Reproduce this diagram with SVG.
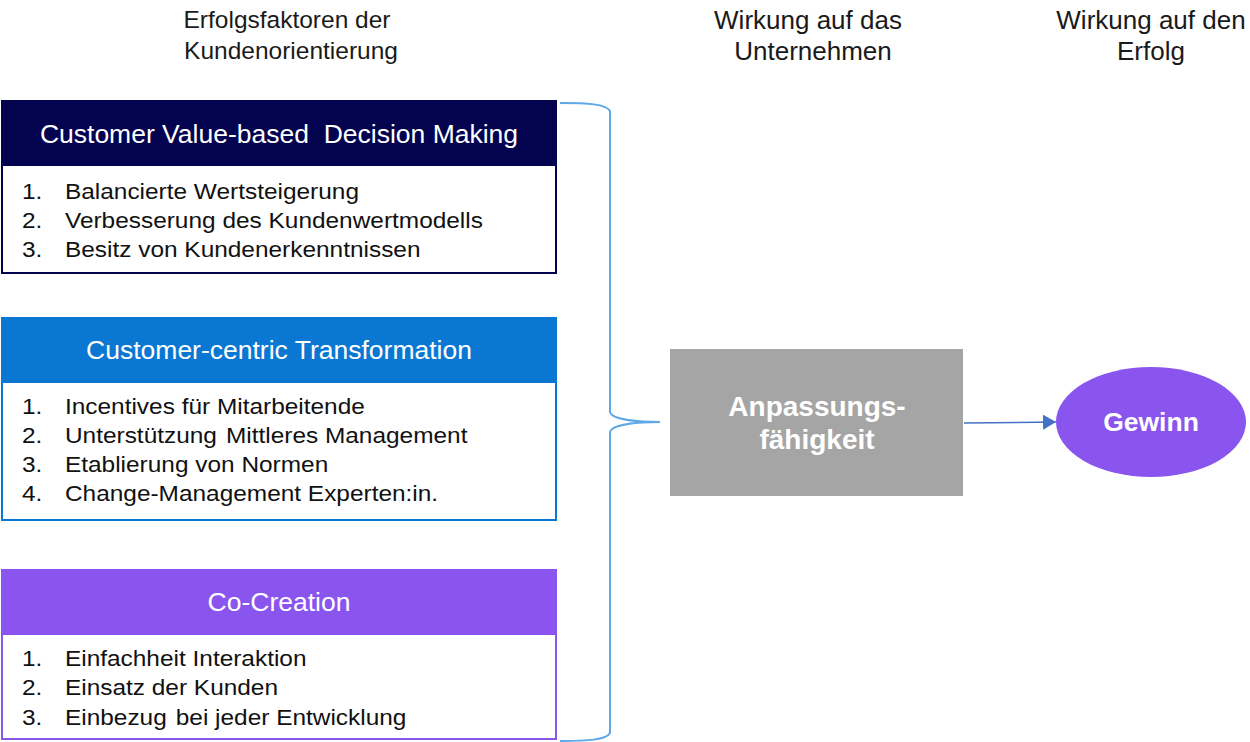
<svg xmlns="http://www.w3.org/2000/svg" width="1250" height="742" viewBox="0 0 1250 742">
  <defs>
    <style>
      text { white-space: pre; }
      .col { font-family: "Liberation Sans", Arial, sans-serif; font-size: 24.5px; fill: #1a1a1a; text-anchor: middle; }
      .col-r { font-family: "Liberation Sans", Arial, sans-serif; font-size: 26px; fill: #1a1a1a; text-anchor: middle; }
      .head { font-family: "Liberation Sans", Arial, sans-serif; font-size: 26.5px; fill: #ffffff; text-anchor: middle; }
      .item { font-family: "Liberation Sans", Arial, sans-serif; font-size: 22px; fill: #111111; }
      .bold { font-family: "Liberation Sans", Arial, sans-serif; font-weight: bold; fill: #ffffff; text-anchor: middle; }
      .brace { fill: none; stroke: #5fa8e8; stroke-width: 2; }
      .flow { fill: none; stroke: #4472c4; stroke-width: 1.5; }
    </style>
    <marker id="arrow" viewBox="0 0 10 10" refX="10" refY="5" markerWidth="13" markerHeight="15" markerUnits="userSpaceOnUse" orient="auto" preserveAspectRatio="none">
      <path d="M0,0 L10,5 L0,10 Z" fill="#4472c4"/>
    </marker>
  </defs>

  <rect width="1250" height="742" fill="#ffffff"/>

  <!-- column titles -->
  <g id="titles">
    <text class="col" x="287" y="28">Erfolgsfaktoren der</text>
    <text class="col" x="291" y="59">Kundenorientierung</text>
    <text class="col-r" x="808" y="29">Wirkung auf das</text>
    <text class="col-r" x="813" y="60">Unternehmen</text>
    <text class="col-r" x="1151" y="29">Wirkung auf den</text>
    <text class="col-r" x="1151" y="60">Erfolg</text>
  </g>

  <!-- factor 1 -->
  <g id="decision-making">
    <rect x="2" y="101" width="554" height="172" fill="#ffffff" stroke="#03034f" stroke-width="2"/>
    <rect x="2" y="101" width="554" height="65" fill="#03034f"/>
    <text class="head" x="279" y="143">Customer Value-based  Decision Making</text>
    <g transform="translate(22,0) scale(1.11,1)">
      <text class="item" x="0" y="199">1.</text>
      <text class="item" x="38.7" y="199">Balancierte Wertsteigerung</text>
      <text class="item" x="0" y="228">2.</text>
      <text class="item" x="38.7" y="228">Verbesserung des Kundenwertmodells</text>
      <text class="item" x="0" y="257">3.</text>
      <text class="item" x="38.7" y="257">Besitz von Kundenerkenntnissen</text>
    </g>
  </g>

  <!-- factor 2 -->
  <g id="transformation">
    <rect x="2" y="318" width="554" height="202" fill="#ffffff" stroke="#0a78d2" stroke-width="2"/>
    <rect x="2" y="318" width="554" height="65" fill="#0a78d2"/>
    <text class="head" x="279" y="359">Customer-centric Transformation</text>
    <g transform="translate(22,0) scale(1.11,1)">
      <text class="item" x="0" y="414">1.</text>
      <text class="item" x="38.7" y="414">Incentives für Mitarbeitende</text>
      <text class="item" x="0" y="443">2.</text>
      <text class="item" x="38.7" y="443">Unterstützung <tspan dx="2">Mittleres Management</tspan></text>
      <text class="item" x="0" y="472">3.</text>
      <text class="item" x="38.7" y="472">Etablierung von Normen</text>
      <text class="item" x="0" y="501">4.</text>
      <text class="item" x="38.7" y="501">Change-Management Experten:in.</text>
    </g>
  </g>

  <!-- factor 3 -->
  <g id="co-creation">
    <rect x="2" y="570" width="554" height="169" fill="#ffffff" stroke="#8a55ef" stroke-width="2"/>
    <rect x="2" y="570" width="554" height="65" fill="#8a55ef"/>
    <text class="head" x="279" y="611">Co-Creation</text>
    <g transform="translate(22,0) scale(1.11,1)">
      <text class="item" x="0" y="666">1.</text>
      <text class="item" x="38.7" y="666">Einfachheit Interaktion</text>
      <text class="item" x="0" y="695">2.</text>
      <text class="item" x="38.7" y="695">Einsatz der Kunden</text>
      <text class="item" x="0" y="725">3.</text>
      <text class="item" x="38.7" y="725">Einbezug <tspan dx="2">bei jeder Entwicklung</tspan></text>
    </g>
  </g>

  <!-- effect on the company -->
  <g id="adaptability">
    <rect x="670" y="349" width="293" height="147" fill="#a5a5a5"/>
    <text class="bold" x="817" y="416" font-size="28">Anpassungs-</text>
    <text class="bold" x="817" y="449" font-size="28">fähigkeit</text>
  </g>

  <!-- effect on success -->
  <g id="profit">
    <ellipse cx="1151" cy="422" rx="95" ry="55" fill="#8a55ef"/>
    <text class="bold" x="1151" y="431" font-size="26.5">Gewinn</text>
  </g>

  <!-- connectors -->
  <g id="connectors">
    <path class="brace" d="M560,103 C588,103 606,104 610,111 L610,412 C612,420 640,422 660,422 C640,422 612,424 610,432 L610,733 C606,740 588,741 560,741"/>
    <path class="flow" d="M964,423 L1056,422" marker-end="url(#arrow)"/>
  </g>
</svg>
